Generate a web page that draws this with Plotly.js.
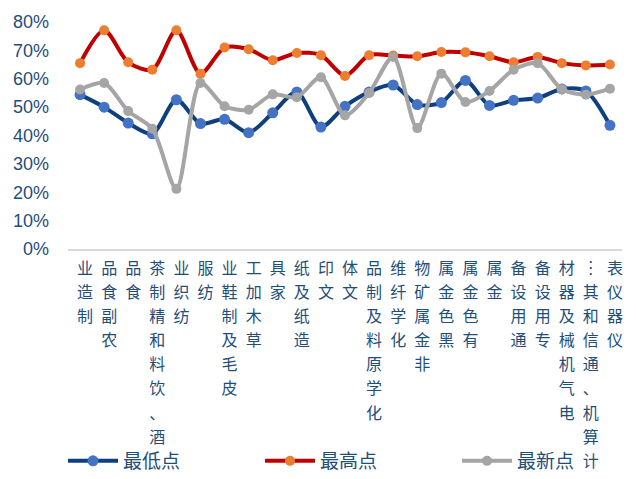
<!DOCTYPE html>
<html>
<head>
<meta charset="utf-8">
<script src="https://cdn.plot.ly/plotly-3.0.1.min.js"></script>
<style>html,body{margin:0;padding:0;background:#fff;}#chart{width:636px;height:479px;}</style>
</head>
<body>
<div id="chart"></div>
<script>
const categories = ["制造业","农副食品","食品","酒、饮料和精制茶","纺织业","纺服","皮毛及制鞋业","草木加工","家具","造纸及纸","文印","文体","化学原料及制品","化学纤维","非金属矿物","黑色金属","有色金属","金属","通用设备","专用设备","电气机械及器材","计算机、通信和其…","仪器仪表"];
const lowValues = [0.544,0.500,0.444,0.406,0.526,0.442,0.457,0.410,0.480,0.553,0.430,0.503,0.553,0.578,0.509,0.516,0.594,0.506,0.524,0.532,0.564,0.557,0.436];
const highValues = [0.655,0.771,0.658,0.632,0.771,0.618,0.710,0.704,0.665,0.691,0.683,0.610,0.683,0.682,0.679,0.694,0.693,0.679,0.658,0.677,0.655,0.647,0.650];
const latestValues = [0.562,0.585,0.486,0.424,0.212,0.585,0.503,0.491,0.545,0.535,0.605,0.471,0.550,0.677,0.426,0.618,0.518,0.557,0.632,0.655,0.563,0.544,0.565];
const seriesNames = ["最低点","最高点","最新点"];

// vertical label text: characters stacked, read bottom-to-top
function verticalLabel(s){
  const chars = Array.from(s).map(c => c === "…" ? "︙" : c).reverse();
  return chars.map(c => '<span style="font-size:16px">' + c + '</span>').join('<br>');
}
const idx = categories.map((_, i) => i);
const tickText = categories.map(verticalLabel);

function trace(y, name, lineColor, markerColor, msize){
  return {
    x: idx, y: y, name: name, type: 'scatter', mode: 'lines+markers',
    line: {color: lineColor, width: 4, shape: 'spline', smoothing: 0.8},
    marker: {color: markerColor, size: msize},
    hoverinfo: 'skip'
  };
}
const data = [
  trace(lowValues, seriesNames[0], '#0E3F7E', '#4472C4', 11),
  trace(highValues, seriesNames[1], '#C00000', '#ED7D31', 10),
  trace(latestValues, seriesNames[2], '#A5A5A5', '#A5A5A5', 10)
];
const layout = {
  width: 636, height: 479,
  margin: {l: 68, r: 14, t: 22, b: 230, autoexpand: false},
  paper_bgcolor: '#fff', plot_bgcolor: '#fff',
  showlegend: true,
  xaxis: {
    range: [-0.5, 22.5], tickmode: 'array', tickvals: idx, ticktext: tickText,
    tickangle: 0, showgrid: false, zeroline: false, automargin: false,
    showline: true, linecolor: '#D9D9D9', linewidth: 2,
    ticks: '', ticklabelstandoff: 1, ticklabelshift: 5,
    tickfont: {family: 'Noto Sans CJK SC', size: 18.5, color: '#1F4E79'},
    fixedrange: true
  },
  yaxis: {
    range: [0, 0.8], dtick: 0.1, tickformat: '.0%', automargin: false,
    showgrid: false, zeroline: false, showline: false, ticks: '',
    ticklabelstandoff: 18,
    tickfont: {family: 'Liberation Sans, Arial', size: 18, color: '#1F4E79'},
    fixedrange: true
  },
  legend: {
    orientation: 'h', x: -0.009, xanchor: 'left', y: -1.0176, yanchor: 'bottom',
    entrywidth: 132, entrywidthmode: 'pixels', itemwidth: 50,
    font: {family: 'Noto Sans CJK SC', size: 19, color: '#1F4E79'},
    bgcolor: 'rgba(0,0,0,0)'
  }
};
Plotly.newPlot('chart', data, layout, {displayModeBar: false, staticPlot: true});
</script>
</body>
</html>
